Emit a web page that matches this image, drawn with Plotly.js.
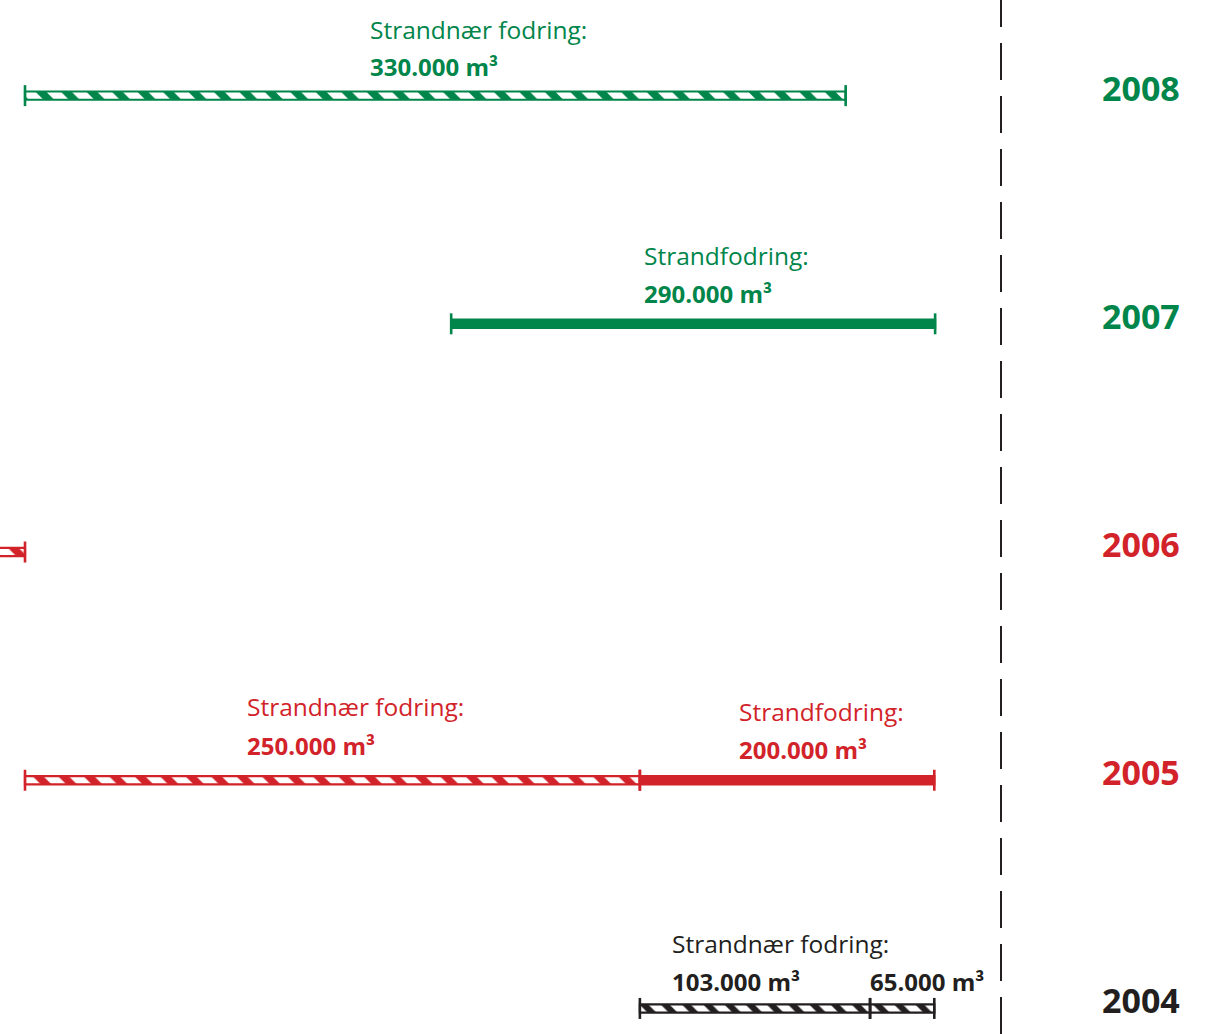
<!DOCTYPE html>
<html>
<head>
<meta charset="utf-8">
<script src="https://cdn.plot.ly/plotly-3.0.1.min.js"></script>
<style>
html,body{margin:0;padding:0;background:#fff;}
#chart{width:1208px;height:1034px;}
</style>
</head>
<body>
<div id="chart"></div>
<script>
// ---- data (x axis: months into the year, 0 = start, 12 = year end) ----
const years = [2008, 2007, 2006, 2005, 2004];
const segYear   = [2008, 2007, 2006, 2005, 2005, 2004, 2004];
const segType   = ['Strandnær fodring', 'Strandfodring', 'Strandnær fodring', 'Strandnær fodring', 'Strandfodring', 'Strandnær fodring', 'Strandnær fodring'];
const segStart  = [0, 5.24, -1.0, 0, 7.56, 7.56, 10.39];
const segEnd    = [10.09, 11.19, 0, 7.56, 11.18, 10.39, 11.18];
const segVolume = [330000, 290000, null, 250000, 200000, 103000, 65000];
const yearEnd = 12;

// ---- styling ----
const GREEN = '#00854a', RED = '#d2232a', BLACK = '#231f20';
const yearColor = {2008: GREEN, 2007: GREEN, 2006: RED, 2005: RED, 2004: BLACK};
const FONT = 'Open Sans, Noto Sans, sans-serif';

function fmt(v){ return String(v).replace(/\B(?=(\d{3})+(?!\d))/g, '.') + ' m³'; }

const segColor = segYear.map(y => yearColor[y]);
const hatched = segType.map(t => t === 'Strandnær fodring');

const barTrace = {
  type: 'bar', orientation: 'h',
  y: segYear,
  base: segStart,
  x: segEnd.map((e, i) => e - segStart[i]),
  width: 0.036,
  marker: {
    color: segColor,
    line: {color: segColor, width: 2.2},
    pattern: {
      shape: hatched.map(h => h ? '\\' : ''),
      fgcolor: segColor,
      bgcolor: hatched.map((h, i) => h ? '#ffffff' : segColor[i]),
      size: segYear.map(y => y === 2004 ? 15 : 18),
      solidity: 0.42,
      fillmode: 'replace'
    }
  },
  hoverinfo: 'skip', showlegend: false
};

// end caps at segment boundaries
const capX = [], capY = [], capC = [];
segYear.forEach((y, i) => {
  capX.push(segStart[i], segEnd[i]); capY.push(y, y); capC.push(segColor[i], segColor[i]);
});
const capTrace = {
  type: 'scatter', mode: 'markers', x: capX, y: capY,
  marker: {symbol: 'line-ns', size: 15, line: {width: 2.6, color: capC}, color: capC},
  hoverinfo: 'skip', showlegend: false, cliponaxis: true
};

// ---- annotations ----
const ann = [];
// label placement per segment (layout only): x in months, vertical offsets in px
const labelPlace = {
  0: {x: 4.22, head: 66.6, vol: 29.6},
  1: {x: 7.58, head: 68.8, vol: 30.8},
  3: {x: 2.71, head: 74, vol: 35},
  4: {x: 8.76, head: 69, vol: 31},
  5: {x: 7.935, head: 65.4, vol: 27.4},
  6: {x: 10.36, head: null, vol: 27.4}
};
Object.keys(labelPlace).forEach(k => {
  const i = +k, p = labelPlace[k];
  if (p.head !== null) {
    ann.push({x: p.x, y: segYear[i], xref: 'x', yref: 'y', xanchor: 'left', yanchor: 'middle',
      yshift: p.head, showarrow: false, text: segType[i] + ':',
      font: {family: FONT, size: 24.5, color: segColor[i]}});
  }
  if (segVolume[i] !== null) {
    ann.push({x: p.x, y: segYear[i], xref: 'x', yref: 'y', xanchor: 'left', yanchor: 'middle',
      yshift: p.vol, showarrow: false, text: fmt(segVolume[i]),
      font: {family: FONT, size: 24, color: segColor[i], weight: 700}});
  }
});
years.forEach(y => {
  ann.push({x: 13.72, y: y, xref: 'x', yref: 'y', xanchor: 'center', yanchor: 'middle',
    yshift: 8, showarrow: false, text: String(y),
    font: {family: FONT, size: 34, color: yearColor[y], weight: 700}});
});

const pxPerMonth = 81.333;
const layout = {
  width: 1208, height: 1034,
  margin: {l: 0, r: 0, t: 0, b: 0, pad: 0},
  paper_bgcolor: '#ffffff', plot_bgcolor: '#ffffff',
  xaxis: {range: [-25 / pxPerMonth, (1208 - 25) / pxPerMonth], visible: false, fixedrange: true},
  yaxis: {range: [2003.888, 2008.419], visible: false, fixedrange: true},
  barmode: 'overlay',
  annotations: ann,
  shapes: [{
    type: 'line', xref: 'x', yref: 'paper', x0: yearEnd, x1: yearEnd, y0: 1 + 10 / 1034, y1: 0,
    line: {color: BLACK, width: 2, dash: '37px,16px'}
  }],
  showlegend: false
};

Plotly.newPlot('chart', [barTrace, capTrace], layout, {staticPlot: true, displayModeBar: false});
</script>
</body>
</html>
